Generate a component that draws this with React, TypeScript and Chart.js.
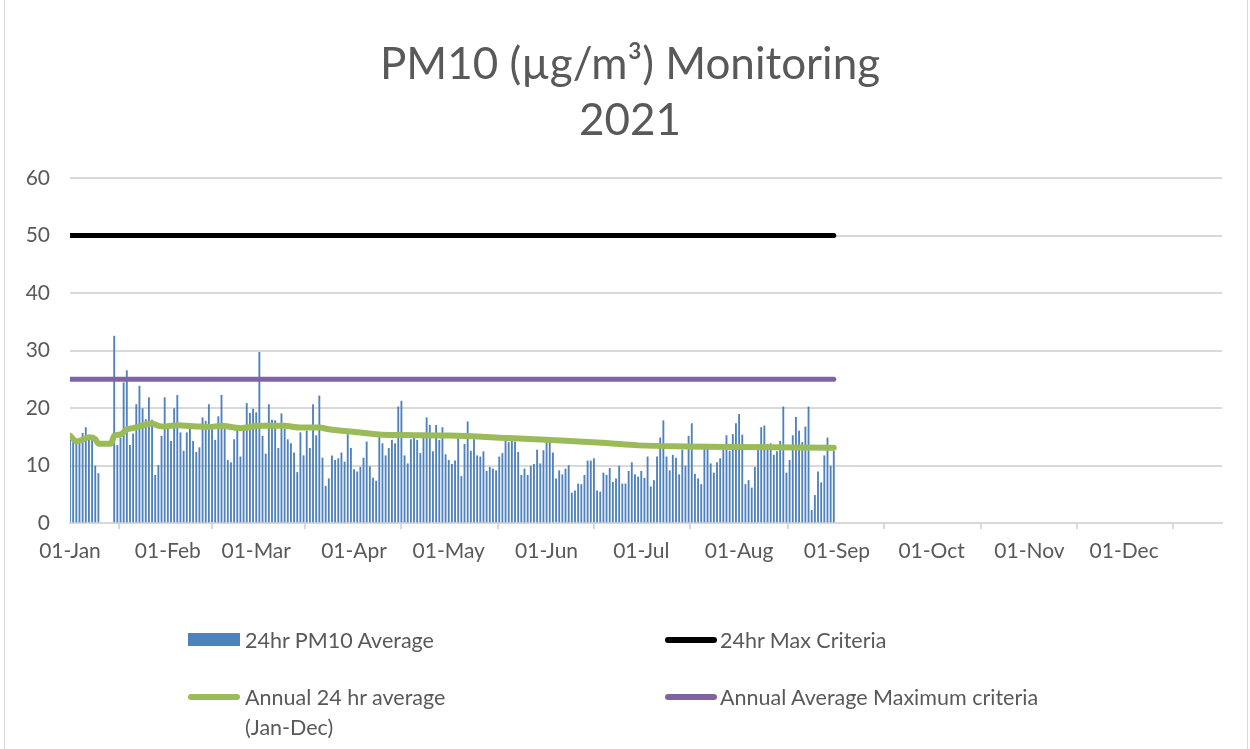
import React, { useEffect, useRef } from 'react';
import { Chart, registerables } from 'chart.js';

Chart.register(...registerables);

// ---- data ----
const chartTitle = ['PM10 (µg/m³) Monitoring', '2021'];
const monthStartDays = [0, 31, 59, 90, 120, 151, 181, 212, 243, 273, 304, 334];
const monthLabels = ['01-Jan', '01-Feb', '01-Mar', '01-Apr', '01-May', '01-Jun', '01-Jul', '01-Aug', '01-Sep', '01-Oct', '01-Nov', '01-Dec'];
const yearEndDay = 365;
const yTickValues = [0, 10, 20, 30, 40, 50, 60];

// daily 24hr PM10 averages from 01-Jan (day 0) to 31-Aug (day 242); null = no data
const pm10Daily: (number | null)[] = [
  15.1, 14.5, 13.7, 14.0, 15.6, 16.6, 14.5, 14.5, 9.9, 8.6,
  null, null, null, null,
  32.5, 13.5, 14.8, 24.4, 26.5, 13.5, 15.5, 20.6, 23.8, 19.9,
  18.0, 21.8, 17.9, 8.3, 10.0, 15.1, 21.8, 16.3, 14.2, 19.9,
  22.2, 15.7, 12.5, 15.7, 16.3, 14.2,
  12.3, 13.1, 18.3, 17.7, 20.6, 16.3, 14.4, 18.5, 22.2, 16.3,
  10.9, 10.5, 14.5, 16.0, 11.5, 16.0, 20.8, 19.1, 19.8, 19.2,
  29.7, 15.1, 12.0, 20.6, 17.9, 17.8, 13.0, 19.0, 16.3, 14.5,
  13.8, 12.2, 8.8, 15.7, 11.7, 16.0, 13.0, 20.6, 15.2, 22.1, 11.3,
  6.4, 7.7, 11.7, 10.9, 11.2, 12.2, 10.6, 15.4, 13.0, 9.3,
  8.9, 9.7, 11.3, 14.1, 9.8, 7.8, 7.3, 14.9, 13.8, 11.7,
  13.0, 14.4, 13.8, 20.2, 21.2, 11.7, 10.3, 14.5, 14.9, 14.4,
  12.1, 14.8, 18.3, 17.0, 12.4, 17.0, 14.4, 16.6, 11.9, 10.9, 10.2,
  10.8, 14.7, 8.1, 13.7, 17.6, 12.5, 14.5, 11.7, 11.5, 12.4,
  9.0, 9.7, 9.4, 9.1, 11.5, 12.1, 14.4, 14.0, 14.4, 14.1,
  12.3, 8.3, 9.4, 8.3, 9.9, 10.2, 12.7, 10.3, 12.6, 14.1,
  14.1, 12.2, 7.7, 9.1, 8.4, 9.4, 10.0, 5.2, 5.6, 6.8, 6.7,
  8.3, 10.8, 10.8, 11.2, 5.6, 5.4, 8.7, 8.3, 9.5, 7.1,
  7.7, 9.9, 6.8, 6.8, 9.0, 10.5, 8.4, 8.0, 9.0, 7.8,
  11.5, 6.3, 7.4, 11.5, 14.8, 17.8, 11.5, 9.1, 11.8, 11.3,
  8.4, 12.7, 9.9, 15.1, 17.3, 8.5, 7.7, 6.7, 13.0, 13.1, 10.3,
  8.7, 10.5, 11.2, 12.7, 15.2, 12.5, 15.4, 17.3, 18.9, 15.3,
  6.7, 7.4, 6.1, 9.7, 13.7, 16.6, 16.9, 13.7, 13.8, 11.8,
  12.4, 14.2, 20.2, 8.7, 10.9, 15.2, 18.4, 16.0, 14.0, 16.7,
  20.2, 2.2, 4.8, 8.9, 7.0, 11.7, 14.8, 9.9, 12.5,
];

// running annual average (read at these days)
const annualAvgDays = [0, 2, 4, 6, 8, 9, 13, 14, 16, 18, 20, 22, 26, 28, 30, 34, 40, 44, 48, 54, 60, 68, 73, 79, 82, 91, 98, 105, 120, 138, 154, 170, 180, 195, 212, 242];
const annualAvgValues = [15.2, 14.2, 14.5, 14.9, 14.6, 13.8, 13.8, 15.2, 15.4, 16.3, 16.5, 16.8, 17.3, 16.9, 16.8, 17.0, 16.8, 16.7, 16.9, 16.5, 16.9, 16.9, 16.6, 16.6, 16.3, 15.8, 15.4, 15.3, 15.2, 14.8, 14.4, 13.9, 13.5, 13.3, 13.2, 13.1];

const maxCriteria24hr = 50;
const annualMaxCriteria = 25;
const criteriaDays = [0, 242];

const seriesNames = ['24hr PM10 Average', '24hr Max Criteria', 'Annual 24 hr average (Jan-Dec)', 'Annual Average Maximum criteria'];

const BLUE = '#4F81BD';
const GREEN = '#9BBB59';
const PURPLE = '#8064A2';
const TEXT = '#595959';
const GRID = '#d9d9d9';
const FONT = 'Lato';

export default function App() {
  const ref = useRef<HTMLCanvasElement>(null);

  useEffect(() => {
    if (!ref.current) return;
    const chart = new Chart(ref.current, {
      type: 'bar',
      data: {
        datasets: [
          {
            type: 'line',
            label: seriesNames[1],
            data: criteriaDays.map((d) => ({ x: d, y: maxCriteria24hr })),
            borderColor: '#000000',
            borderWidth: 5,
            borderCapStyle: 'round',
            pointRadius: 0,
            order: 1,
          },
          {
            type: 'line',
            label: seriesNames[3],
            data: criteriaDays.map((d) => ({ x: d, y: annualMaxCriteria })),
            borderColor: PURPLE,
            borderWidth: 5,
            borderCapStyle: 'round',
            pointRadius: 0,
            order: 2,
          },
          {
            type: 'line',
            label: seriesNames[2],
            data: annualAvgDays.map((d, i) => ({ x: d, y: annualAvgValues[i] })),
            borderColor: GREEN,
            borderWidth: 6,
            borderCapStyle: 'round',
            borderJoinStyle: 'round',
            cubicInterpolationMode: 'monotone',
            pointRadius: 0,
            order: 3,
          },
          {
            type: 'bar',
            label: seriesNames[0],
            data: pm10Daily.map((v, i) => ({ x: i, y: v })),
            backgroundColor: BLUE,
            barThickness: 1.2,
            order: 4,
          },
        ],
      } as any,
      options: {
        responsive: false,
        animation: false,
        layout: { padding: { left: 0, right: 28, top: 178, bottom: 176 } },
        plugins: {
          legend: { display: false },
          tooltip: { enabled: false },
          title: { display: false },
        },
        scales: {
          x: {
            type: 'linear',
            min: 0,
            max: yearEndDay,
            offset: false,
            afterBuildTicks: (s: any) => {
              s.ticks = [...monthStartDays, yearEndDay].map((v) => ({ value: v }));
            },
            afterFit: (s: any) => {
              s.height = 50;
            },
            ticks: {
              autoSkip: false,
              maxRotation: 0,
              color: TEXT,
              padding: 10,
              font: { family: FONT, size: 21 },
              callback: (v: any) => {
                const i = monthStartDays.indexOf(Number(v));
                return i >= 0 ? monthLabels[i] : '';
              },
            },
            grid: { drawOnChartArea: false, drawTicks: true, tickLength: 6, color: GRID, lineWidth: 2 },
            border: { display: true, color: GRID, width: 2 },
          },
          y: {
            min: 0,
            max: 60,
            afterBuildTicks: (s: any) => {
              s.ticks = yTickValues.map((v) => ({ value: v }));
            },
            afterFit: (s: any) => {
              s.width = 70;
            },
            ticks: { color: TEXT, padding: 20, font: { family: FONT, size: 21 } },
            grid: { drawTicks: false, color: GRID, lineWidth: 2 },
            border: { display: false },
          },
        },
      } as any,
    });
    return () => chart.destroy();
  }, []);

  const legendText: React.CSSProperties = {
    position: 'absolute',
    fontFamily: FONT,
    fontSize: 21.5,
    color: TEXT,
    lineHeight: '30px',
    whiteSpace: 'nowrap',
  };
  const swatch = (left: number, top: number, color: string, h: number, radius: number): React.CSSProperties => ({
    position: 'absolute',
    left,
    top,
    width: 52,
    height: h,
    background: color,
    borderRadius: radius,
  });

  return (
    <div style={{ position: 'absolute', left: 0, top: 0, width: 1250, height: 749, background: '#fff', overflow: 'hidden' }}>
      <canvas ref={ref} width={1250} height={749} style={{ position: 'absolute', left: 0, top: 0 }} />
      <div style={{ position: 'absolute', left: 4, top: -2, width: 1242, height: 760, border: `1px solid ${GRID}` }} />
      <div
        style={{
          position: 'absolute',
          left: 0,
          top: 34,
          width: 1260,
          textAlign: 'center',
          fontFamily: FONT,
          fontSize: 44,
          lineHeight: '56px',
          color: TEXT,
        }}
      >
        {chartTitle[0]}
        <br />
        {chartTitle[1]}
      </div>
      <div style={swatch(188, 633, BLUE, 13, 0)} />
      <div style={{ ...legendText, left: 245, top: 625 }}>{seriesNames[0]}</div>
      <div style={swatch(665, 637, '#000000', 6, 3)} />
      <div style={{ ...legendText, left: 720, top: 625 }}>{seriesNames[1]}</div>
      <div style={swatch(188, 694, GREEN, 6, 3)} />
      <div style={{ ...legendText, left: 245, top: 682 }}>
        Annual 24 hr average
        <br />
        (Jan-Dec)
      </div>
      <div style={swatch(665, 694, PURPLE, 6, 3)} />
      <div style={{ ...legendText, left: 720, top: 682 }}>{seriesNames[3]}</div>
    </div>
  );
}
